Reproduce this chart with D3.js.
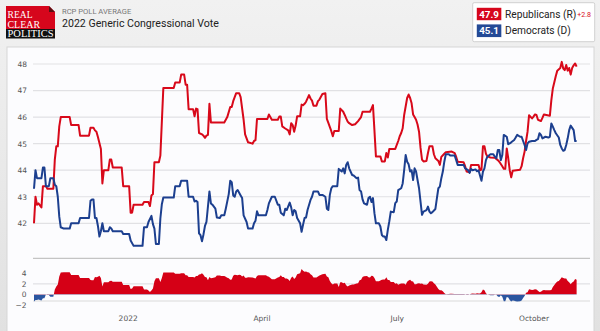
<!DOCTYPE html>
<html>
<head>
<meta charset="utf-8">
<script src="https://cdn.jsdelivr.net/npm/d3@7"></script>
<style>
body{margin:0;background:#e4e4e4;}
svg{display:block;}
</style>
</head>
<body>
<svg width="600" height="331"></svg>
<script>
// RCP generic ballot averages, one point per change in the average
const repPoints = [
  ["2021-10-30",42.0],["2021-10-31",43.0],["2021-11-01",42.7],["2021-11-02",42.75],["2021-11-04",42.6],
  ["2021-11-05",43.4],["2021-11-07",43.4],["2021-11-08",43.3],["2021-11-12",43.3],["2021-11-13",44.4],
  ["2021-11-14",44.9],["2021-11-15",44.9],["2021-11-16",45.65],["2021-11-17",46.0],["2021-11-23",46.0],
  ["2021-11-24",45.7],["2021-11-29",45.7],["2021-11-30",45.3],["2021-12-06",45.3],["2021-12-07",45.6],
  ["2021-12-09",45.6],["2021-12-10",45.5],["2021-12-11",45.45],["2021-12-12",45.25],["2021-12-14",44.8],
  ["2021-12-15",43.5],["2021-12-16",44.0],["2021-12-19",44.0],["2021-12-20",44.4],["2021-12-21",44.4],
  ["2021-12-22",44.1],["2021-12-28",44.1],["2021-12-29",43.4],["2022-01-02",43.4],["2022-01-03",42.4],
  ["2022-01-04",42.4],["2022-01-05",42.7],["2022-01-11",42.7],["2022-01-12",42.8],["2022-01-15",42.8],
  ["2022-01-16",42.65],["2022-01-17",43.05],["2022-01-18",43.1],["2022-01-19",44.3],["2022-01-22",44.3],
  ["2022-01-23",44.55],["2022-01-25",47.1],["2022-02-01",47.1],["2022-02-02",47.3],["2022-02-05",47.3],
  ["2022-02-06",47.6],["2022-02-08",47.6],["2022-02-09",47.22],["2022-02-10",47.22],["2022-02-11",46.3],
  ["2022-02-14",46.3],["2022-02-15",46.03],["2022-02-16",46.32],["2022-02-17",46.3],["2022-02-18",45.4],
  ["2022-02-20",45.35],["2022-02-21",45.3],["2022-02-22",45.22],["2022-02-23",45.3],["2022-02-24",45.33],
  ["2022-02-25",46.5],["2022-02-26",45.8],["2022-03-07",45.8],["2022-03-09",46.0],["2022-03-11",46.38],
  ["2022-03-12",46.38],["2022-03-13",46.6],["2022-03-15",46.9],["2022-03-17",46.9],["2022-03-18",46.75],
  ["2022-03-20",45.9],["2022-03-21",45.35],["2022-03-23",45.05],["2022-03-26",45.0],["2022-03-27",45.1],
  ["2022-03-28",45.13],["2022-03-29",45.93],["2022-04-05",45.93],["2022-04-06",46.1],["2022-04-08",45.9],
  ["2022-04-12",45.9],["2022-04-13",46.02],["2022-04-14",46.02],["2022-04-15",45.65],["2022-04-17",45.57],
  ["2022-04-19",45.5],["2022-04-20",45.35],["2022-04-21",45.77],["2022-04-22",45.7],["2022-04-23",45.45],
  ["2022-04-24",45.68],["2022-04-25",46.03],["2022-04-27",46.03],["2022-04-28",46.47],["2022-04-29",46.45],
  ["2022-04-30",46.5],["2022-05-01",46.58],["2022-05-03",46.83],["2022-05-04",46.7],["2022-05-05",46.62],
  ["2022-05-06",46.43],["2022-05-08",46.43],["2022-05-09",46.6],["2022-05-10",46.66],["2022-05-12",46.87],
  ["2022-05-14",46.9],["2022-05-15",45.93],["2022-05-16",45.78],["2022-05-18",45.47],["2022-05-19",45.28],
  ["2022-05-20",45.48],["2022-05-23",45.48],["2022-05-24",46.32],["2022-05-26",46.2],["2022-05-27",46.08],
  ["2022-05-28",45.95],["2022-05-29",45.83],["2022-05-30",45.77],["2022-06-01",45.7],["2022-06-03",45.73],
  ["2022-06-05",45.85],["2022-06-07",46.0],["2022-06-08",46.2],["2022-06-13",46.2],["2022-06-14",46.32],
  ["2022-06-15",46.45],["2022-06-16",45.5],["2022-06-17",44.52],["2022-06-20",44.52],["2022-06-21",44.33],
  ["2022-06-23",44.33],["2022-06-24",44.65],["2022-06-25",44.48],["2022-06-26",44.8],["2022-06-30",44.8],
  ["2022-07-02",45.1],["2022-07-03",45.28],["2022-07-04",45.4],["2022-07-05",45.58],["2022-07-06",46.08],
  ["2022-07-08",46.72],["2022-07-09",46.85],["2022-07-10",46.72],["2022-07-11",46.52],["2022-07-12",46.1],
  ["2022-07-13",46.0],["2022-07-14",45.9],["2022-07-15",45.72],["2022-07-16",45.45],["2022-07-17",44.85],
  ["2022-07-18",44.4],["2022-07-19",44.33],["2022-07-21",44.35],["2022-07-22",44.65],["2022-07-23",44.9],
  ["2022-07-25",44.9],["2022-07-26",44.6],["2022-07-27",44.45],["2022-07-29",44.35],["2022-07-30",44.2],
  ["2022-07-31",44.5],["2022-08-02",44.62],["2022-08-03",44.68],["2022-08-07",44.7],["2022-08-09",44.64],
  ["2022-08-10",44.5],["2022-08-11",44.32],["2022-08-15",44.3],["2022-08-16",44.15],["2022-08-17",43.95],
  ["2022-08-19",43.92],["2022-08-20",44.2],["2022-08-25",44.2],["2022-08-26",44.0],["2022-08-27",44.02],
  ["2022-08-28",44.9],["2022-08-29",44.9],["2022-08-30",44.62],["2022-08-31",44.52],["2022-09-02",44.48],
  ["2022-09-05",44.47],["2022-09-07",44.38],["2022-09-08",44.32],["2022-09-10",44.15],["2022-09-11",44.05],
  ["2022-09-12",44.05],["2022-09-13",44.82],["2022-09-14",44.45],["2022-09-15",44.0],["2022-09-16",43.73],
  ["2022-09-17",43.98],["2022-09-22",44.02],["2022-09-23",44.15],["2022-09-24",44.45],["2022-09-25",44.7],
  ["2022-09-26",45.1],["2022-09-27",45.45],["2022-09-28",46.07],["2022-09-30",45.95],["2022-10-01",46.02],
  ["2022-10-02",46.1],["2022-10-03",46.08],["2022-10-04",45.9],["2022-10-06",45.85],["2022-10-07",45.97],
  ["2022-10-08",46.1],["2022-10-12",46.05],["2022-10-13",46.64],["2022-10-14",47.08],["2022-10-16",47.55],
  ["2022-10-17",47.75],["2022-10-19",47.85],["2022-10-20",48.08],["2022-10-21",47.83],["2022-10-22",47.77],
  ["2022-10-23",47.96],["2022-10-24",47.75],["2022-10-25",47.85],["2022-10-26",47.6],["2022-10-27",47.85],
  ["2022-10-28",47.95],["2022-10-29",48.02],["2022-10-30",47.9]
];

const demPoints = [
  ["2021-10-30",43.3],["2021-10-31",44.0],["2021-11-01",43.7],["2021-11-04",43.7],["2021-11-05",44.1],
  ["2021-11-06",44.1],["2021-11-07",43.4],["2021-11-09",43.4],["2021-11-10",43.7],["2021-11-12",43.7],
  ["2021-11-13",43.45],["2021-11-14",43.4],["2021-11-15",43.0],["2021-11-16",42.25],["2021-11-17",41.85],
  ["2021-11-19",41.8],["2021-11-23",41.8],["2021-11-24",42.0],["2021-11-29",42.0],["2021-11-30",42.2],
  ["2021-12-06",42.2],["2021-12-07",42.85],["2021-12-08",42.9],["2021-12-09",42.9],["2021-12-10",42.2],
  ["2021-12-11",42.2],["2021-12-12",41.9],["2021-12-13",41.5],["2021-12-14",41.7],["2021-12-15",42.0],
  ["2021-12-16",41.7],["2021-12-19",41.7],["2021-12-20",41.85],["2021-12-21",41.8],["2021-12-22",41.7],
  ["2021-12-28",41.7],["2021-12-29",41.6],["2022-01-02",41.6],["2022-01-03",41.35],["2022-01-05",41.15],
  ["2022-01-11",41.15],["2022-01-12",41.85],["2022-01-14",41.85],["2022-01-15",42.05],["2022-01-17",42.28],
  ["2022-01-18",41.97],["2022-01-19",41.8],["2022-01-20",41.22],["2022-01-22",41.22],["2022-01-23",42.18],
  ["2022-01-24",42.72],["2022-01-25",42.97],["2022-02-01",42.97],["2022-02-02",43.4],["2022-02-05",43.4],
  ["2022-02-06",43.6],["2022-02-10",43.6],["2022-02-11",43.0],["2022-02-14",43.0],["2022-02-15",42.82],
  ["2022-02-16",42.85],["2022-02-17",42.8],["2022-02-18",41.62],["2022-02-19",41.55],["2022-02-20",41.32],
  ["2022-02-21",41.58],["2022-02-22",41.9],["2022-02-23",42.05],["2022-02-25",43.2],["2022-02-26",42.75],
  ["2022-02-27",42.7],["2022-03-01",42.55],["2022-03-02",42.22],["2022-03-04",42.2],["2022-03-05",42.3],
  ["2022-03-07",42.3],["2022-03-08",42.55],["2022-03-10",43.1],["2022-03-11",43.6],["2022-03-12",43.55],
  ["2022-03-13",43.05],["2022-03-14",43.0],["2022-03-15",43.2],["2022-03-16",43.25],["2022-03-18",43.05],
  ["2022-03-19",42.95],["2022-03-20",42.3],["2022-03-22",42.05],["2022-03-23",41.8],["2022-03-26",41.8],
  ["2022-03-27",42.0],["2022-03-28",42.1],["2022-03-29",42.45],["2022-03-30",42.3],["2022-04-04",42.3],
  ["2022-04-05",42.5],["2022-04-06",42.75],["2022-04-08",43.0],["2022-04-10",43.0],["2022-04-12",42.7],
  ["2022-04-13",42.7],["2022-04-14",42.4],["2022-04-16",42.3],["2022-04-17",42.55],["2022-04-18",42.5],
  ["2022-04-20",42.78],["2022-04-21",42.6],["2022-04-22",42.3],["2022-04-23",42.5],["2022-04-24",42.45],
  ["2022-04-25",42.2],["2022-04-27",42.0],["2022-04-28",41.68],["2022-04-29",41.95],["2022-04-30",42.2],
  ["2022-05-01",42.22],["2022-05-02",42.5],["2022-05-04",42.88],["2022-05-05",43.0],["2022-05-06",43.2],
  ["2022-05-09",43.2],["2022-05-10",43.07],["2022-05-12",43.07],["2022-05-14",43.0],["2022-05-15",42.55],
  ["2022-05-16",42.5],["2022-05-17",43.07],["2022-05-18",43.32],["2022-05-19",43.4],["2022-05-22",43.4],
  ["2022-05-23",44.05],["2022-05-25",43.95],["2022-05-26",44.07],["2022-05-27",43.88],["2022-05-28",44.2],
  ["2022-05-29",44.3],["2022-05-30",44.07],["2022-06-01",43.82],["2022-06-02",43.8],["2022-06-04",43.7],
  ["2022-06-05",43.72],["2022-06-06",43.25],["2022-06-07",43.2],["2022-06-08",42.9],["2022-06-09",42.75],
  ["2022-06-11",42.7],["2022-06-12",42.95],["2022-06-13",43.0],["2022-06-14",42.8],["2022-06-15",42.95],
  ["2022-06-16",42.38],["2022-06-17",42.0],["2022-06-19",42.0],["2022-06-20",41.88],["2022-06-21",41.56],
  ["2022-06-22",41.5],["2022-06-23",41.5],["2022-06-24",41.37],["2022-06-25",41.75],["2022-06-26",42.07],
  ["2022-06-27",42.44],["2022-06-29",42.42],["2022-06-30",42.76],["2022-07-01",42.82],["2022-07-02",43.25],
  ["2022-07-04",43.32],["2022-07-05",43.5],["2022-07-06",44.0],["2022-07-07",44.57],["2022-07-08",44.32],
  ["2022-07-09",44.22],["2022-07-10",43.95],["2022-07-11",44.0],["2022-07-12",43.63],["2022-07-13",44.07],
  ["2022-07-14",43.95],["2022-07-15",43.63],["2022-07-16",43.32],["2022-07-17",42.82],["2022-07-18",42.32],
  ["2022-07-19",42.44],["2022-07-21",42.5],["2022-07-22",42.63],["2022-07-23",42.44],["2022-07-24",42.38],
  ["2022-07-25",42.42],["2022-07-27",42.54],["2022-07-28",42.94],["2022-07-29",43.32],["2022-07-30",43.38],
  ["2022-07-31",43.7],["2022-08-01",43.95],["2022-08-02",44.32],["2022-08-03",44.6],["2022-08-05",44.6],
  ["2022-08-06",44.55],["2022-08-09",44.55],["2022-08-10",44.38],["2022-08-11",44.2],["2022-08-15",44.2],
  ["2022-08-16",44.07],["2022-08-18",44.0],["2022-08-19",43.9],["2022-08-20",44.05],["2022-08-21",44.0],
  ["2022-08-23",44.03],["2022-08-24",43.96],["2022-08-25",44.0],["2022-08-26",43.8],["2022-08-27",43.6],
  ["2022-08-28",43.95],["2022-08-29",44.07],["2022-08-30",44.38],["2022-08-31",44.51],["2022-09-02",44.6],
  ["2022-09-04",44.6],["2022-09-05",44.51],["2022-09-06",44.45],["2022-09-07",44.76],["2022-09-08",44.76],
  ["2022-09-09",44.38],["2022-09-10",44.57],["2022-09-11",45.33],["2022-09-13",45.26],["2022-09-14",44.98],
  ["2022-09-15",45.01],["2022-09-16",45.05],["2022-09-18",45.14],["2022-09-19",45.23],["2022-09-20",45.33],
  ["2022-09-22",45.26],["2022-09-23",45.26],["2022-09-24",45.1],["2022-09-25",44.95],["2022-09-26",44.76],
  ["2022-09-27",45.01],["2022-09-28",45.07],["2022-09-30",45.1],["2022-10-02",45.1],["2022-10-03",45.14],
  ["2022-10-04",45.17],["2022-10-05",45.39],["2022-10-06",45.33],["2022-10-07",45.2],["2022-10-09",45.26],
  ["2022-10-11",45.23],["2022-10-12",45.26],["2022-10-13",45.76],["2022-10-14",45.64],["2022-10-15",45.51],
  ["2022-10-16",45.39],["2022-10-18",45.23],["2022-10-19",44.95],["2022-10-20",44.82],["2022-10-21",44.73],
  ["2022-10-22",44.76],["2022-10-23",44.95],["2022-10-24",45.2],["2022-10-25",45.51],["2022-10-26",45.68],
  ["2022-10-28",45.51],["2022-10-29",45.1],["2022-10-30",45.1]
];

const monthTicks = ["2022-01-01","2022-04-01","2022-07-01","2022-10-01"];
const monthLabels = ["2022","April","July","October"];
const voteTicks = [42,43,44,45,46,47,48];
const spreadTicks = [-2,0,2,4];

const parse = d3.timeParse("%Y-%m-%d");
const rep = repPoints.map(p => ({date: parse(p[0]), value: p[1]}));
const dem = demPoints.map(p => ({date: parse(p[0]), value: p[1]}));

// value of an average on a given day, reading along its line
const bisect = d3.bisector(d => d.date).left;
function valueAt(series, date) {
  let i = bisect(series, date);
  if (i <= 0) return series[0].value;
  if (i >= series.length) return series[series.length - 1].value;
  let a = series[i - 1], b = series[i];
  let t = (date - a.date) / (b.date - a.date);
  return a.value + (b.value - a.value) * t;
}

// spread = R minus D on every day either average moved
let spreadDates = Array.from(new Set(rep.concat(dem).map(d => +d.date))).sort((a, b) => a - b);
let spread = spreadDates.map(t => {
  let d = new Date(t);
  return {date: d, value: valueAt(rep, d) - valueAt(dem, d)};
});

const svg = d3.select("svg");
const W = 600, H = 331;
const red = "#d8091a", blue = "#1c3f8f";

let defs = svg.append("defs");
let grad = defs.append("linearGradient").attr("id", "hdr").attr("x1", 0).attr("y1", 0).attr("x2", 0).attr("y2", 1);
grad.append("stop").attr("offset", "0%").attr("stop-color", "#f1f1f1");
grad.append("stop").attr("offset", "100%").attr("stop-color", "#e1e1e1");

svg.append("rect").attr("width", W).attr("height", H).attr("fill", "url(#hdr)");
svg.append("rect").attr("x", 7).attr("y", 47).attr("width", 587).attr("height", 290)
  .attr("fill", "#fcfcfe").attr("stroke", "#d6d6d6");

// scales
const x = d3.scaleTime()
  .domain([parse("2021-10-30"), parse("2022-11-08")])
  .range([34, 590]);
const yVote = d3.scaleLinear().domain([42, 48]).range([223.3, 64]);
const ySpread = d3.scaleLinear().domain([-2, 4]).range([305.2, 273.3]);

// upper panel grid
let grid = svg.append("g");
grid.selectAll("line").data(voteTicks).enter().append("line")
  .attr("x1", 33).attr("x2", 590)
  .attr("y1", d => yVote(d)).attr("y2", d => yVote(d))
  .attr("stroke", "#e1e1e4").attr("stroke-width", 1.2);

let yAxisVote = d3.axisLeft(yVote).tickValues(voteTicks).tickFormat(d3.format("d"))
  .tickSize(0).tickPadding(0);
svg.append("g").attr("transform", "translate(27,0)").call(yAxisVote)
  .call(g => g.select(".domain").remove())
  .selectAll("text")
  .attr("font-family", "DejaVu Sans").attr("font-size", 7.5).attr("fill", "#555");

// lower panel
svg.append("line").attr("x1", 33).attr("x2", 590).attr("y1", 258.3).attr("y2", 258.3)
  .attr("stroke", "#c4c4c4").attr("stroke-width", 1.3);
svg.append("line").attr("x1", 33).attr("x2", 590).attr("y1", ySpread(2)).attr("y2", ySpread(2))
  .attr("stroke", "#e1e1e4").attr("stroke-width", 1.2);
svg.append("line").attr("x1", 33).attr("x2", 590).attr("y1", 301).attr("y2", 301)
  .attr("stroke", "#dadada").attr("stroke-width", 1.2);

let yAxisSpread = d3.axisLeft(ySpread).tickValues(spreadTicks).tickFormat(d3.format("d"))
  .tickSize(0).tickPadding(0);
svg.append("g").attr("transform", "translate(26.5,0)").call(yAxisSpread)
  .call(g => g.select(".domain").remove())
  .selectAll("text")
  .attr("font-family", "DejaVu Sans").attr("font-size", 7.5).attr("fill", "#555");

defs.append("clipPath").attr("id", "above").append("rect")
  .attr("x", 0).attr("y", 0).attr("width", W).attr("height", ySpread(0));
defs.append("clipPath").attr("id", "below").append("rect")
  .attr("x", 0).attr("y", ySpread(0)).attr("width", W).attr("height", H);

let spreadArea = d3.area()
  .x(d => x(d.date))
  .y0(ySpread(0))
  .y1(d => ySpread(d.value));

svg.append("path").datum(spread).attr("d", spreadArea)
  .attr("fill", "#d50016").attr("clip-path", "url(#above)");
svg.append("path").datum(spread).attr("d", spreadArea)
  .attr("fill", "#2b55a0").attr("clip-path", "url(#below)");

// x axis labels
let xAxis = d3.axisBottom(x)
  .tickValues(monthTicks.map(parse))
  .tickFormat((d, i) => monthLabels[i])
  .tickSize(0).tickPadding(0);
svg.append("g").attr("transform", "translate(0,316)").call(xAxis)
  .call(g => g.select(".domain").remove())
  .selectAll("text")
  .attr("font-family", "DejaVu Sans").attr("font-size", 7.5).attr("fill", "#555");

// the two averages
let line = d3.line().x(d => x(d.date)).y(d => yVote(d.value));
svg.append("path").datum(rep).attr("d", line)
  .attr("fill", "none").attr("stroke", red).attr("stroke-width", 2).attr("stroke-linejoin", "round");
svg.append("path").datum(dem).attr("d", line)
  .attr("fill", "none").attr("stroke", blue).attr("stroke-width", 2).attr("stroke-linejoin", "round");

// header: logo
let logo = svg.append("g");
logo.append("path").attr("d", "M6,6 H49 L55,12 V29 H6 Z").attr("fill", "#d6061c");
logo.append("path").attr("d", "M49,6 L55,12 H49 Z").attr("fill", "#5a0f12");
logo.append("rect").attr("x", 6).attr("y", 29).attr("width", 49).attr("height", 9.5).attr("fill", "#111");
let logoWords = [
  {t: "REAL", y: 18.2, w: 25},
  {t: "CLEAR", y: 27.6, w: 32.5},
  {t: "POLITICS", y: 37.2, w: 46}
];
logo.selectAll("text").data(logoWords).enter().append("text")
  .attr("x", 7.5).attr("y", d => d.y).text(d => d.t)
  .attr("font-family", "Liberation Serif").attr("font-size", 9.4).attr("fill", "#fff")
  .attr("textLength", d => d.w).attr("lengthAdjust", "spacingAndGlyphs");

svg.append("text").attr("x", 62).attr("y", 13.7).text("RCP POLL AVERAGE")
  .attr("font-family", "Roboto").attr("font-size", 7.6).attr("fill", "#777");
svg.append("text").attr("x", 62).attr("y", 27.3).text("2022 Generic Congressional Vote")
  .attr("font-family", "Roboto").attr("font-size", 10.6).attr("fill", "#222");

// legend box
let repLast = rep[rep.length - 1].value, demLast = dem[dem.length - 1].value;
let lead = repLast - demLast;
let legend = svg.append("g");
legend.append("rect").attr("x", 472.7).attr("y", 2.7).attr("width", 122).attr("height", 39)
  .attr("fill", "#fff").attr("stroke", "#d0d0d0").attr("rx", 1.5);
let rows = [
  {value: repLast, name: "Republicans (R)", fill: "#d6061c", y: 7.3},
  {value: demLast, name: "Democrats (D)", fill: "#244a96", y: 24}
];
let row = legend.selectAll("g.row").data(rows).enter().append("g").attr("class", "row");
row.append("rect").attr("x", 476.3).attr("y", d => d.y).attr("width", 25.5).attr("height", 13.4)
  .attr("fill", d => d.fill).attr("stroke", "#fff").attr("stroke-width", 0.8);
row.append("text").attr("x", 489).attr("y", d => d.y + 10.2).text(d => d.value.toFixed(1))
  .attr("text-anchor", "middle").attr("font-family", "Roboto").attr("font-size", 9.8)
  .attr("font-weight", "bold").attr("fill", "#fff");
row.append("text").attr("x", 505).attr("y", d => d.y + 10.3).text(d => d.name)
  .attr("font-family", "Roboto").attr("font-size", 10.2).attr("fill", "#222");
legend.append("text").attr("x", 577.3).attr("y", 17.2).text("+" + lead.toFixed(1))
  .attr("font-family", "Roboto").attr("font-size", 7).attr("fill", red);
</script>
</body>
</html>
